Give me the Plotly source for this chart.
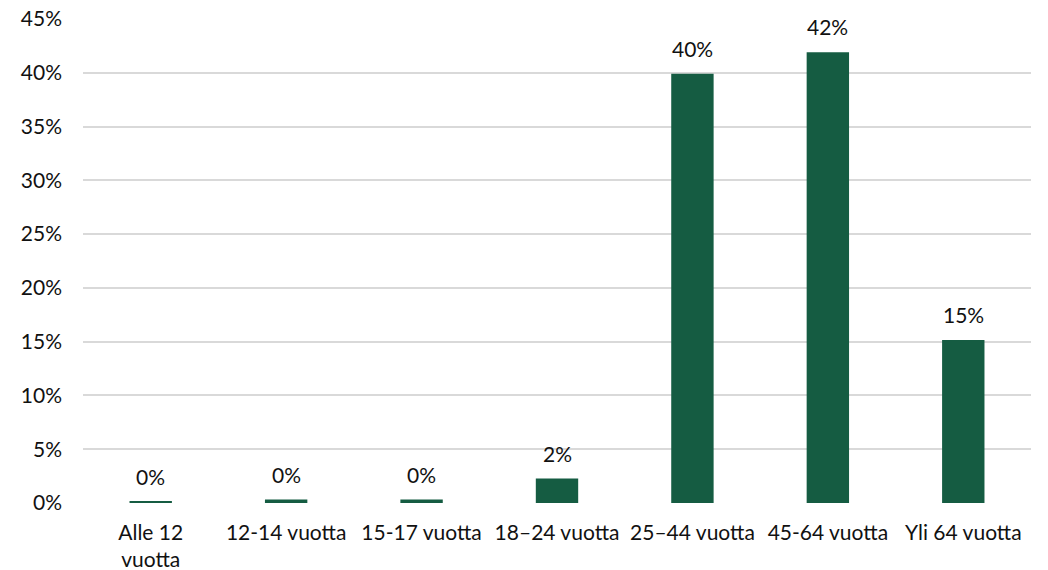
import plotly.graph_objects as go

categories = ["Alle 12<br>vuotta", "12-14 vuotta", "15-17 vuotta", "18–24 vuotta",
              "25–44 vuotta", "45-64 vuotta", "Yli 64 vuotta"]
values_pct = [0.1, 0.32, 0.32, 2.27, 39.9, 41.9, 15.15]
labels = ["0%", "0%", "0%", "2%", "40%", "42%", "15%"]
y_ticks = [0, 5, 10, 15, 20, 25, 30, 35, 40, 45]
y_tick_text = ["0%", "5%", "10%", "15%", "20%", "25%", "30%", "35%", "40%", "45%"]

BAR_COLOR = "#155C42"
FONT = "Lato"
FS = 21

fig = go.Figure()
fig.add_trace(go.Bar(
    x=categories, y=values_pct,
    marker=dict(color=BAR_COLOR, line=dict(width=0)),
    hoverinfo="skip",
))

for c, v, t in zip(categories, values_pct, labels):
    fig.add_annotation(x=c, y=v, text=t, showarrow=False, yanchor="bottom",
                       yshift=11, font=dict(family=FONT, size=FS, color="#111111"))

# page body has an 8px margin, so the figure is sized/offset to compensate
fig.update_layout(
    width=1040, height=562,
    margin=dict(l=75, r=17, t=11, b=67, autoexpand=False),
    plot_bgcolor="white", paper_bgcolor="white",
    bargap=0.687,
    showlegend=False,
    font=dict(family=FONT, size=FS, color="#111111"),
)
fig.update_yaxes(
    range=[0, 45.001], tickmode="array", tickvals=y_ticks, ticktext=y_tick_text,
    ticklabeloverflow="allow",
    showgrid=True, gridcolor="#D9D9D9", gridwidth=1.5,
    zeroline=False, showline=False, ticks="", automargin=False,
    ticklabelstandoff=20,
    tickfont=dict(family=FONT, size=FS, color="#111111"),
)
fig.update_xaxes(
    showgrid=False, showline=False, ticks="", automargin=False,
    ticklabelstandoff=15, ticklabeloverflow="allow",
    tickfont=dict(family=FONT, size=FS, color="#111111"),
)

fig.write_html("out.html")
